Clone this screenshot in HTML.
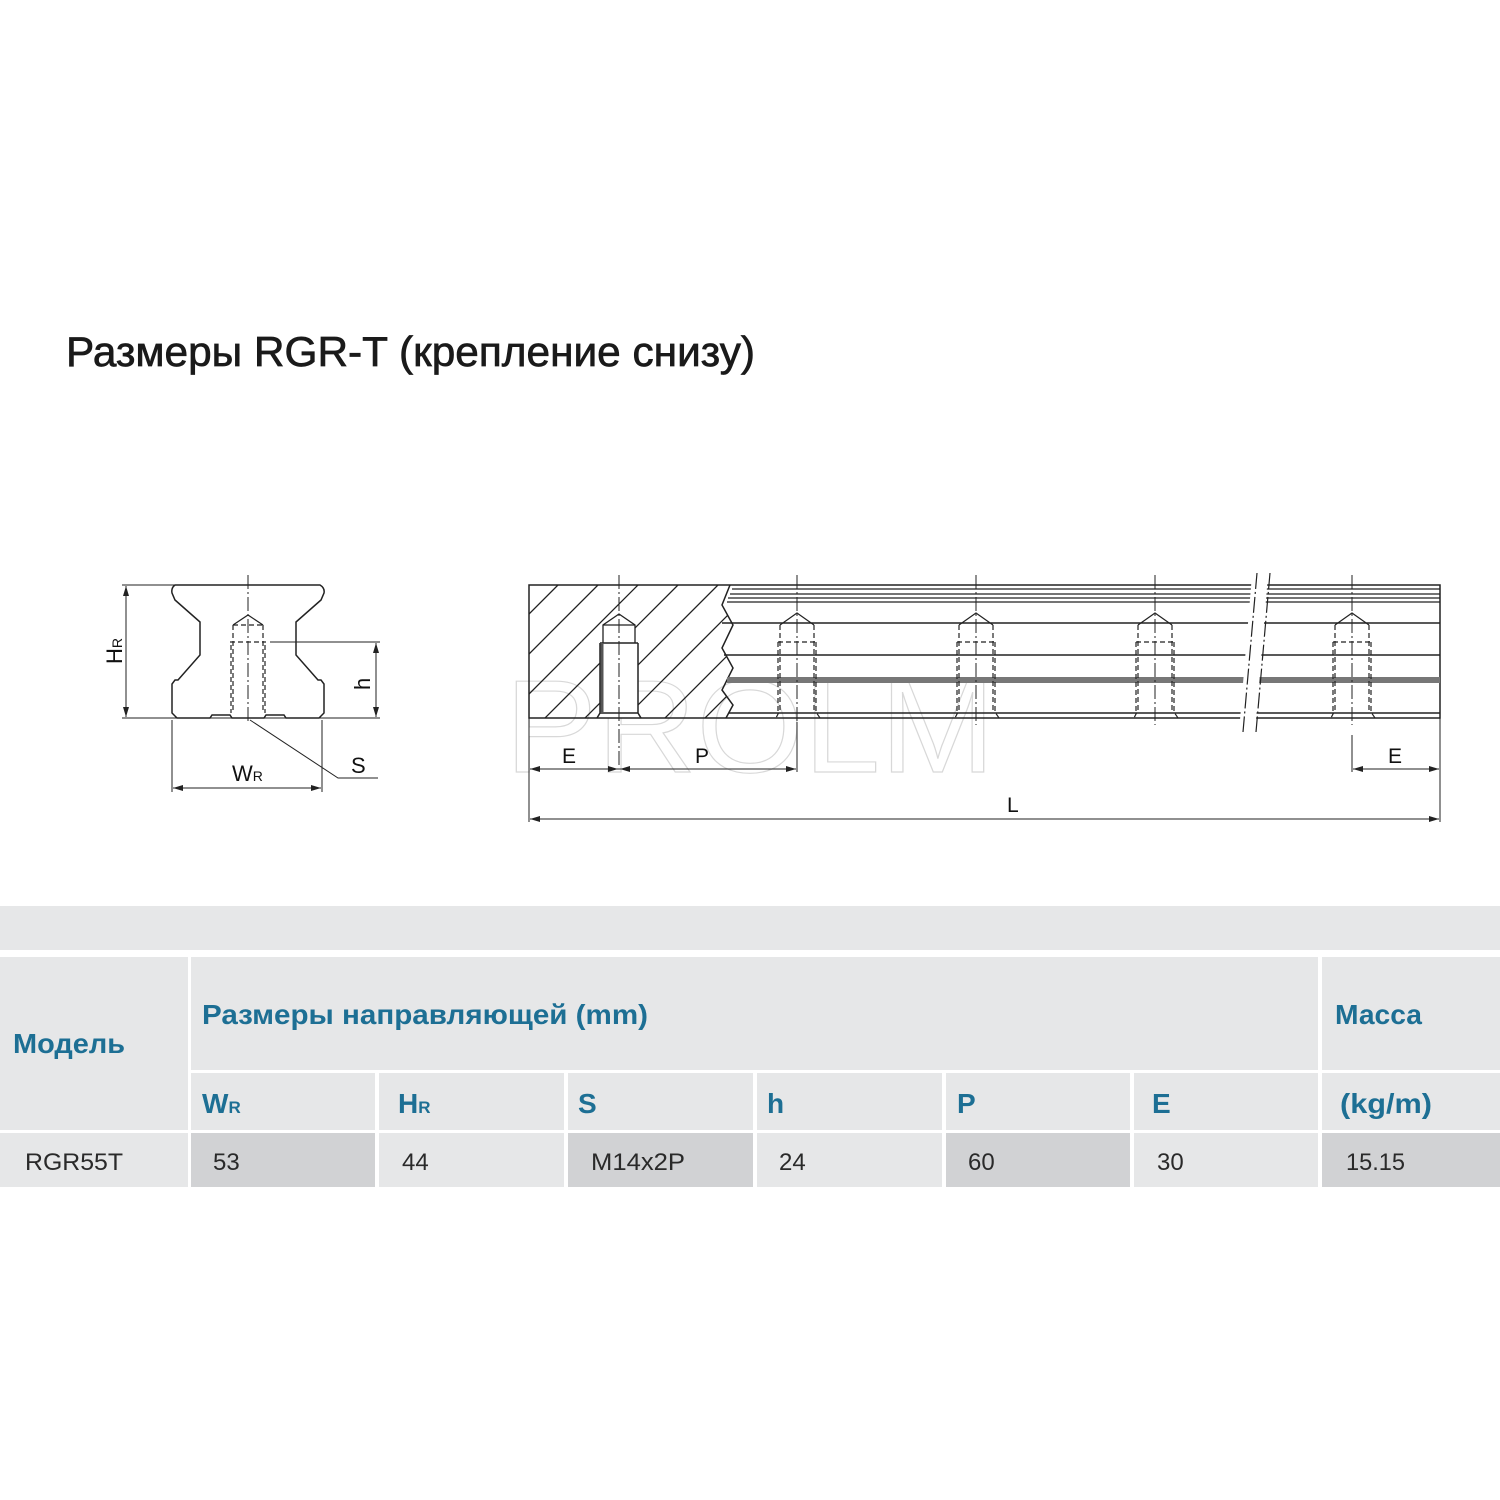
<!DOCTYPE html>
<html><head><meta charset="utf-8"><style>html,body{margin:0;padding:0;background:#fff}svg{display:block}</style></head>
<body>
<svg width="1500" height="1500" viewBox="0 0 1500 1500" xmlns="http://www.w3.org/2000/svg" font-family="'Liberation Sans', sans-serif">
<defs>
<marker id="a" viewBox="0 0 10 6" refX="10" refY="3" markerWidth="10" markerHeight="6" orient="auto-start-reverse" markerUnits="userSpaceOnUse"><path d="M0,0 L10,3 L0,6 Z" fill="#222"/></marker>
<clipPath id="hc"><path d="M529,585 L730,585 L722,605 L733,625 L722,648 L733,668 L722,690 L733,705 L726,718 L529,718 Z"/></clipPath>
</defs>
<rect width="1500" height="1500" fill="#fff"/>
<text x="66" y="366" font-size="42" fill="#1a1a1a" stroke="#1a1a1a" stroke-width="0.7" textLength="689" lengthAdjust="spacingAndGlyphs">Размеры RGR-T (крепление снизу)</text>

<!-- watermark -->
<text x="505" y="772" font-size="132" fill="none" stroke="#d8d8d8" stroke-width="1.2" textLength="490" lengthAdjust="spacingAndGlyphs">PROLM</text>

<!-- cross-section -->
<g stroke="#222" stroke-width="1.5" fill="none">
<path d="M175,585 L320,585 Q325,588 324,593 L321,600 L296,622 L296,655 L318,680 L321,680 L324,684 L324,713 L319,718 L286,718 L284,715 L266,715 L264,718 L232,718 L230,715 L212,715 L210,718 L177,718 L172,713 L172,684 L175,680 L178,680 L200,655 L200,622 L175,600 L172,593 Q171,588 175,585 Z"/>
<g stroke-dasharray="5,3" stroke-width="1.2">
<path d="M233,625 L233,713 M263,625 L263,713 M230,642 L266,642 M231,645 L231,713 M265,645 L265,713 M233,625 L263,625"/>
</g>
<path d="M233,625 L248,615 L263,625" stroke-width="1.2"/>
<path d="M248,575 L248,722" stroke-width="1" stroke-dasharray="14,3,2,3"/>
<path d="M122,585 L175,585 M122,718 L380,718 M270,642 L380,642 M172,720 L172,792 M322,720 L322,792 M250,720 L338,778 L378,778" stroke-width="1"/>
<path d="M126,586 L126,717" stroke-width="1" marker-start="url(#a)" marker-end="url(#a)"/>
<path d="M376,643 L376,717" stroke-width="1" marker-start="url(#a)" marker-end="url(#a)"/>
<path d="M173,788 L321,788" stroke-width="1" marker-start="url(#a)" marker-end="url(#a)"/>
</g>
<text transform="translate(122,664) rotate(-90)" font-size="22" fill="#111">H<tspan font-size="14">R</tspan></text>
<text transform="translate(370,690) rotate(-90)" font-size="22" fill="#111">h</text>
<text x="232" y="781" font-size="22" fill="#111">W<tspan font-size="14">R</tspan></text>
<text x="351" y="773" font-size="22" fill="#111">S</text>

<!-- side view -->
<g stroke="#222" fill="none">
<g clip-path="url(#hc)" stroke-width="1.3">
<path d="M529,614 L558,585 M529,654 L598,585 M529,694 L638,585 M535,728 L678,585 M575,728 L718,585 M615,728 L758,585 M655,728 L798,585 M695,728 L838,585"/>
</g>
<path d="M597,718 L600,713 L600,643 L603,643 L603,625 L619,614 L635,625 L635,643 L638,643 L638,713 L641,718 Z" fill="#fff" stroke="none"/>
<path d="M603,643 L603,625 L619,614 L635,625 L635,643" stroke-width="1.3"/>
<path d="M603,625 L635,625" stroke-width="1.2"/>
<path d="M600,643 L638,643 M600,643 L600,713 L597,718 M638,643 L638,713 L641,718 M600,713 L638,713" stroke-width="1.5"/>
<path d="M602,643 L602,713" stroke="#555" stroke-width="3"/>
<path d="M529,585 L1440,585 L1440,718 L529,718 Z" stroke-width="1.5"/>
<path d="M730,585 L722,605 L733,625 L722,648 L733,668 L722,690 L733,705 L726,718" stroke-width="1.5"/>
<g stroke-width="1.2">
<path d="M732,589 L1440,589 M730,594 L1440,594 M728,598 L1440,598 M727,602 L1440,602"/>
<path d="M722,623 L1440,623 M724,655 L1440,655 M729,713 L1440,713" stroke-width="1.6"/>
</g>
<path d="M727,680 L1440,680" stroke="#777" stroke-width="6"/>
<g stroke-width="1.2">
<g id="h1">
<path d="M780,625 L797,613 L814,625" />
<path d="M780,625 L780,710 L776,718 M814,625 L814,710 M778,642 L816,642 M778,642 L778,712 M816,642 L816,712 L820,718" stroke-dasharray="5,3"/>
<path d="M797,575 L797,725" stroke-dasharray="14,3,2,3" stroke-width="1"/>
</g>
<use href="#h1" x="179"/>
<use href="#h1" x="358"/>
<use href="#h1" x="555"/>
<path d="M619,575 L619,772" stroke-dasharray="14,3,2,3" stroke-width="1"/>
</g>
<!-- break -->
<path d="M1252,575 L1268,575 L1255,732 L1239,732 Z" fill="#fff" stroke="none"/>
<path d="M1257,573 L1243,732 M1270,573 L1256,732" stroke-width="1.2" stroke-dasharray="16,3,2,3"/>
<!-- dims -->
<g stroke-width="1">
<path d="M529,718 L529,822 M797,722 L797,772 M1352,735 L1352,772 M1440,718 L1440,822"/>
<path d="M530,769 L618,769" marker-start="url(#a)" marker-end="url(#a)"/>
<path d="M620,769 L796,769" marker-start="url(#a)" marker-end="url(#a)"/>
<path d="M1353,769 L1439,769" marker-start="url(#a)" marker-end="url(#a)"/>
<path d="M530,819 L1439,819" marker-start="url(#a)" marker-end="url(#a)"/>
</g>
</g>
<text x="562" y="763" font-size="21" fill="#111">E</text>
<text x="695" y="763" font-size="21" fill="#111">P</text>
<text x="1388" y="763" font-size="21" fill="#111">E</text>
<text x="1007" y="812" font-size="21" fill="#111">L</text>

<!-- table -->
<g fill="#e6e7e8">
<rect x="0" y="906" width="1500" height="44"/>
<rect x="0" y="957" width="188" height="173"/>
<rect x="191" y="957" width="1127" height="113"/>
<rect x="1322" y="957" width="178" height="113"/>
<rect x="191" y="1073" width="184" height="57"/>
<rect x="379" y="1073" width="185" height="57"/>
<rect x="568" y="1073" width="185" height="57"/>
<rect x="757" y="1073" width="185" height="57"/>
<rect x="946" y="1073" width="184" height="57"/>
<rect x="1134" y="1073" width="184" height="57"/>
<rect x="1322" y="1073" width="178" height="57"/>
<rect x="0" y="1133" width="188" height="54"/>
<rect x="379" y="1133" width="185" height="54"/>
<rect x="757" y="1133" width="185" height="54"/>
<rect x="1134" y="1133" width="184" height="54"/>
</g>
<g fill="#d1d2d4">
<rect x="191" y="1133" width="184" height="54"/>
<rect x="568" y="1133" width="185" height="54"/>
<rect x="946" y="1133" width="184" height="54"/>
<rect x="1322" y="1133" width="178" height="54"/>
</g>
<g fill="#1d6f94" font-size="28" font-weight="bold">
<text x="13" y="1053" textLength="112" lengthAdjust="spacingAndGlyphs">Модель</text>
<text x="202" y="1024" textLength="446" lengthAdjust="spacingAndGlyphs">Размеры направляющей (mm)</text>
<text x="1335" y="1024" textLength="87" lengthAdjust="spacingAndGlyphs">Масса</text>
<text x="202" y="1113">W<tspan font-size="17">R</tspan></text>
<text x="398" y="1113">H<tspan font-size="17">R</tspan></text>
<text x="578" y="1113">S</text>
<text x="767" y="1113">h</text>
<text x="957" y="1113">P</text>
<text x="1152" y="1113">E</text>
<text x="1340" y="1113" textLength="92" lengthAdjust="spacingAndGlyphs">(kg/m)</text>
</g>
<g fill="#2a2a2a" font-size="24">
<text x="25" y="1170" textLength="98" lengthAdjust="spacingAndGlyphs">RGR55T</text>
<text x="213" y="1170">53</text>
<text x="402" y="1170">44</text>
<text x="591" y="1170" textLength="94" lengthAdjust="spacingAndGlyphs">M14x2P</text>
<text x="779" y="1170">24</text>
<text x="968" y="1170">60</text>
<text x="1157" y="1170">30</text>
<text x="1346" y="1170" textLength="59" lengthAdjust="spacingAndGlyphs">15.15</text>
</g>
</svg>
</body></html>
